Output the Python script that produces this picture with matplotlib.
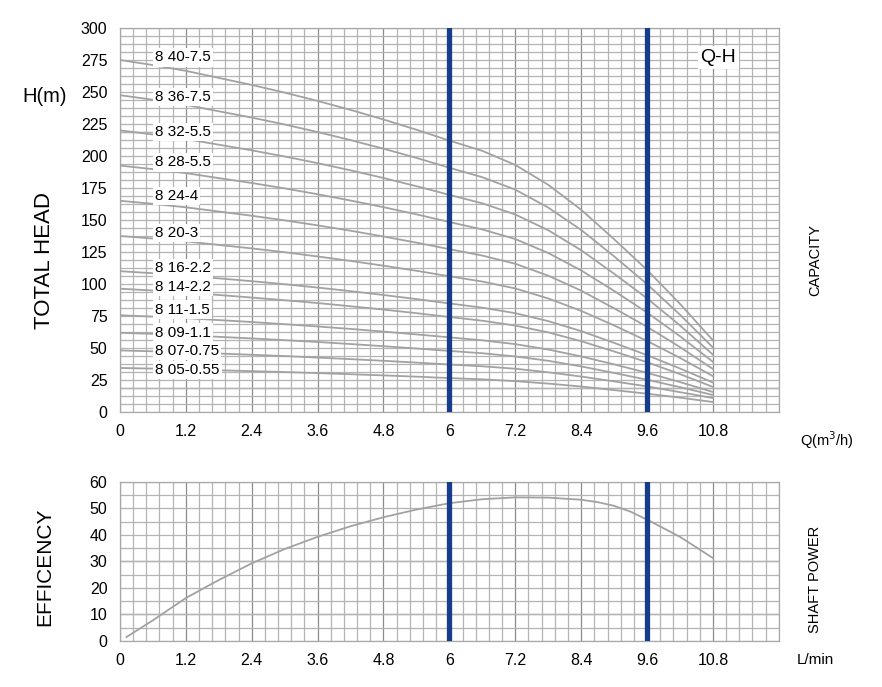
import matplotlib
matplotlib.use("Agg")
import matplotlib.pyplot as plt
from matplotlib.ticker import MultipleLocator, FixedLocator

plt.rcParams['font.family'] = ['Liberation Sans', 'DejaVu Sans']

# flow points (m3/h) for the Q-H curves
flow = [0, 0.6, 1.2, 1.8, 2.4, 3.0, 3.6, 4.2, 4.8, 5.4, 6.0, 6.6, 7.2, 7.8, 8.4, 9.0, 9.6, 10.2, 10.8]

# head (m) for each pump model
pump_labels = ['8 40-7.5', '8 36-7.5', '8 32-5.5', '8 28-5.5', '8 24-4', '8 20-3',
               '8 16-2.2', '8 14-2.2', '8 11-1.5', '8 09-1.1', '8 07-0.75', '8 05-0.55']
head_40 = [275, 271, 266.5, 261, 255.5, 249.5, 243, 236, 228.5, 220.5, 212, 204, 193, 177.5, 158, 135, 111, 84.5, 56]
head_36 = [247.5, 243.9, 239.9, 234.9, 230, 224.6, 218.7, 212.4, 205.7, 198.5, 190.8, 183.4, 173.7, 159.7, 142.2, 121.6, 99.9, 76, 50.4]
head_32 = [220, 216.8, 213.2, 208.8, 204.4, 199.6, 194.4, 188.8, 182.8, 176.4, 169.6, 163, 154.3, 142, 126.4, 108, 88.8, 67.6, 44.8]
head_28 = [192.5, 189.7, 186.6, 182.7, 178.9, 174.7, 170.1, 165.2, 160, 154.4, 148.4, 142.6, 135.1, 124.2, 110.6, 94.6, 77.7, 59.2, 39.2]
head_24 = [165, 162.6, 159.9, 156.6, 153.3, 149.7, 145.8, 141.6, 137.1, 132.3, 127.2, 122.2, 115.8, 106.5, 94.8, 81, 66.6, 50.7, 33.6]
head_20 = [137.5, 135.5, 133.3, 130.5, 127.8, 124.8, 121.5, 118, 114.3, 110.3, 106, 101.9, 96.5, 88.7, 79, 67.6, 55.5, 42.3, 28]
head_16 = [110, 108.4, 106.6, 104.4, 102.2, 99.8, 97.2, 94.4, 91.4, 88.2, 84.8, 81.5, 77.2, 71, 63.2, 54, 44.4, 34, 23]
head_14 = [96.3, 94.9, 93.3, 91.4, 89.4, 87.3, 85.1, 82.6, 80, 77.2, 74.2, 71.3, 67.5, 62.2, 55.3, 47.3, 38.9, 29.6, 19.6]
head_11 = [75.6, 74.5, 73.3, 71.8, 70.3, 68.6, 66.8, 64.9, 62.8, 60.6, 58.3, 56, 53, 48.8, 43.4, 37.2, 30.6, 23.4, 15.6]
head_09 = [61.9, 61, 60, 58.7, 57.5, 56.1, 54.7, 53.1, 51.4, 49.6, 47.7, 45.9, 43.4, 40, 35.6, 30.5, 25.2, 19.4, 13.3]
head_07 = [48.1, 47.4, 46.6, 45.7, 44.7, 43.7, 42.5, 41.3, 40, 38.6, 37.1, 35.7, 33.8, 31, 27.7, 23.9, 20, 15.5, 10.9]
head_05 = [34.4, 33.9, 33.3, 32.6, 31.9, 31.2, 30.4, 29.5, 28.6, 27.6, 26.5, 25.5, 24.1, 22.2, 19.9, 17.1, 14.3, 11.2, 7.8]
heads = [head_40, head_36, head_32, head_28, head_24, head_20,
         head_16, head_14, head_11, head_09, head_07, head_05]
# where each model label sits (head value)
label_h = [277, 246, 219, 195, 169, 140, 112.5, 98, 80, 62, 47.6, 33]

# efficiency curve
eff_flow = [0.12, 0.6, 1.2, 1.8, 2.4, 3.0, 3.6, 4.2, 4.8, 5.4, 6.0, 6.6, 7.2, 7.8, 8.4, 8.7, 9.0, 9.3, 9.6, 10.2, 10.8]
eff = [1.5, 7.8, 16.2, 23, 29.3, 34.7, 39.3, 43.3, 46.7, 49.6, 52, 53.5, 54.2, 54.1, 53.3, 52.4, 51, 48.8, 45.8, 39.3, 31.3]

x_ticks = [0, 1.2, 2.4, 3.6, 4.8, 6, 7.2, 8.4, 9.6, 10.8]
x_tick_labels = ['0', '1.2', '2.4', '3.6', '4.8', '6', '7.2', '8.4', '9.6', '10.8']
range_lines = [6, 9.6]

curve_col = '#a2a2a2'
blue = '#163c8c'


def setup_grid(ax, ystep_minor):
    ax.set_xlim(0, 12)
    ax.xaxis.set_major_locator(FixedLocator(x_ticks))
    ax.set_xticklabels(x_tick_labels)
    ax.xaxis.set_minor_locator(MultipleLocator(0.24))
    ax.yaxis.set_minor_locator(MultipleLocator(ystep_minor))
    ax.grid(which='minor', color='#b4b4b4', lw=0.9)
    ax.grid(which='major', axis='x', color='#8c8c8c', lw=0.9)
    ax.grid(which='major', axis='y', color='#b4b4b4', lw=0.9)
    ax.tick_params(which='both', length=0, labelsize=11.5, pad=9)
    for s in ax.spines.values():
        s.set_color('#a8a8a8')
        s.set_linewidth(0.9)
    ax.set_axisbelow(True)
    for q in range_lines:
        ax.axvline(q, color=blue, lw=3.8, zorder=5)


fig = plt.figure(figsize=(8.82, 6.87), dpi=100)

# --- Q-H chart ---
ax1 = fig.add_axes([0.136, 0.4003, 0.747, 0.559])
ax1.set_ylim(0, 300)
ax1.set_yticks(range(0, 301, 25))
setup_grid(ax1, 6.25)
for h in [218.75, 18.75]:
    ax1.axhline(h, color='#707070', lw=0.9, zorder=0.5)
for lab, h, ly in zip(pump_labels, heads, label_h):
    ax1.plot(flow, h, color=curve_col, lw=1.3, zorder=3)
    ax1.text(0.64, ly, lab, fontsize=11, va='center', ha='left', zorder=4,
             bbox=dict(facecolor='white', edgecolor='none', pad=1.5))
ax1.text(10.9, 277, 'Q-H', fontsize=14, ha='center', va='center', zorder=4,
         bbox=dict(facecolor='white', edgecolor='none', pad=2))

# --- efficiency chart ---
ax2 = fig.add_axes([0.136, 0.067, 0.747, 0.2314])
ax2.set_ylim(0, 60)
ax2.set_yticks(range(0, 61, 10))
setup_grid(ax2, 5)
for e in [10, 30]:
    ax2.axhline(e, color='#707070', lw=0.9, zorder=0.5)
ax2.plot(eff_flow, eff, color=curve_col, lw=1.3, zorder=3)

# side texts
fig.text(0.051, 0.6215, 'TOTAL HEAD', rotation=90, fontsize=16, ha='center', va='center')
fig.text(0.051, 0.859, 'H(m)', fontsize=14.5, ha='center', va='center')
fig.text(0.051, 0.175, 'EFFICENCY', rotation=90, fontsize=15, ha='center', va='center')
fig.text(0.924, 0.6215, 'CAPACITY', rotation=90, fontsize=10.5, ha='center', va='center')
fig.text(0.924, 0.156, 'SHAFT POWER', rotation=90, fontsize=10.5, ha='center', va='center')
fig.text(0.938, 0.36, 'Q(m$^3$/h)', fontsize=10.5, ha='center', va='center')
fig.text(0.925, 0.039, 'L/min', fontsize=11, ha='center', va='center')

fig.savefig('out.png', dpi=100)
